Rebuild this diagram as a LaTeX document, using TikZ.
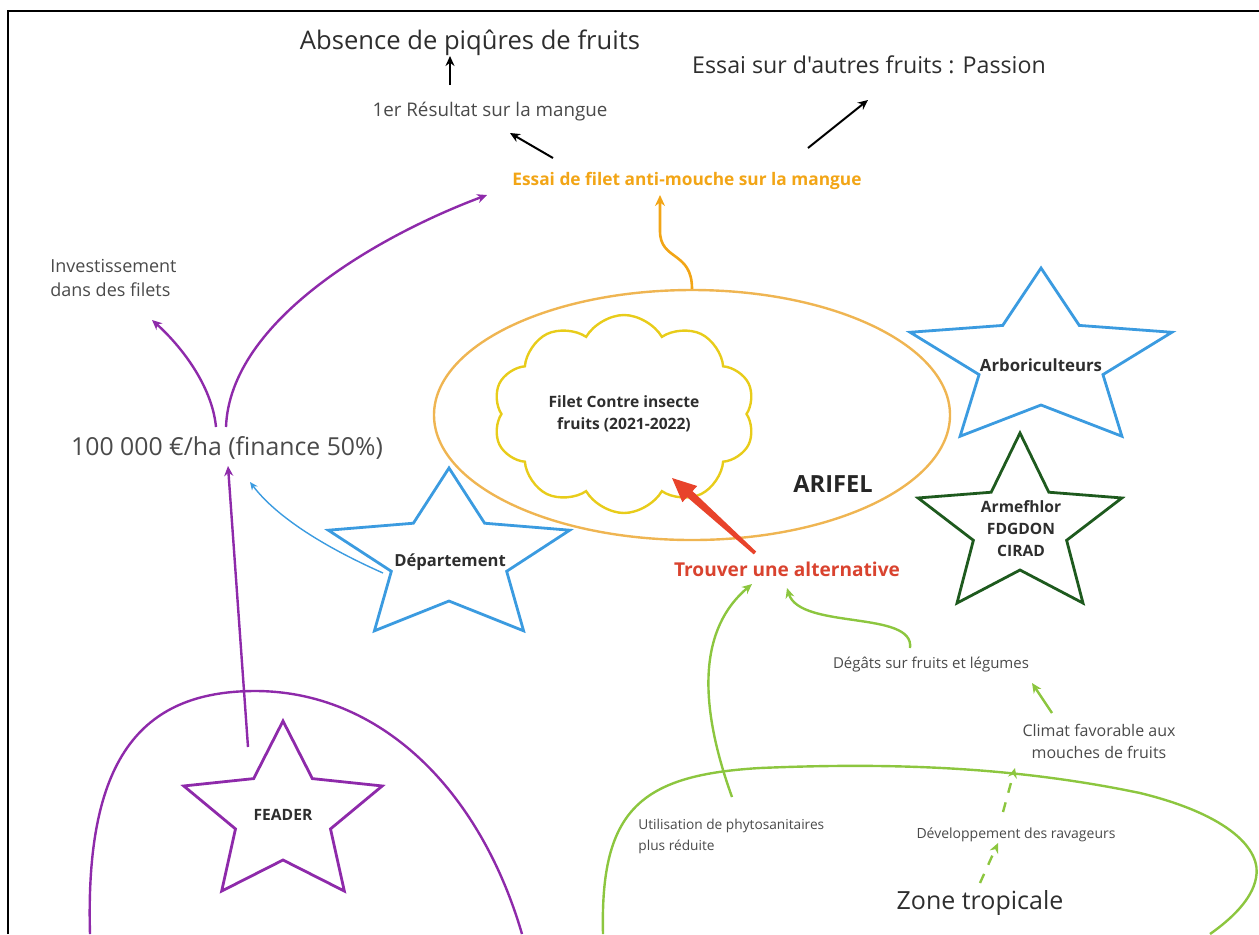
\documentclass[tikz,border=0pt]{standalone}
\usepackage{fontspec}
\setmainfont{Open Sans}[Ligatures=TeXOff]
\usetikzlibrary{arrows.meta,shapes.geometric,shapes.symbols,calc}
\definecolor{purp}{HTML}{8E2AAA}
\definecolor{bluestar}{HTML}{3B9BE0}
\definecolor{dkgreen}{HTML}{1E5A1E}
\definecolor{ltgreen}{HTML}{8CC63F}
\definecolor{ellorange}{HTML}{EFB552}
\definecolor{cloudyel}{HTML}{E8CC1A}
\definecolor{orangetxt}{HTML}{F2A516}
\definecolor{redarrow}{HTML}{E8432B}
\definecolor{redtxt}{HTML}{D9432F}
\definecolor{txtgray}{HTML}{4A4A4A}
\definecolor{txtdark}{HTML}{2E2E2E}
\newcommand\fs[2]{\fontsize{#1}{#2}\selectfont}
\newcommand\drawstar[6]{\draw[#1, shift={(#2,#3)}, xscale=#6] (-90:#4) -- (-54:#5) -- (-18:#4) -- (18:#5) -- (54:#4) -- (90:#5) -- (126:#4) -- (162:#5) -- (198:#4) -- (234:#5) -- cycle;}
\tikzset{
  txt/.style={inner sep=0pt, text=txtgray, align=center},
  btxt/.style={inner sep=0pt, text=txtdark, align=center, font=\bfseries},
  blkarrow/.style={draw=black, line width=1pt, -{Stealth[length=5pt,width=4.5pt]}},
  purparrow/.style={draw=purp, line width=1.2pt, -{Stealth[length=5pt,width=4.5pt]}},
  bluearrow/.style={draw=bluestar, line width=0.7pt, -{Stealth[length=4pt,width=3.5pt]}},
  greenarrow/.style={draw=ltgreen, line width=1.2pt, -{Stealth[length=5pt,width=4.5pt]}},
  greendash/.style={draw=ltgreen, line width=1.2pt, dash pattern=on 5pt off 5pt, -{Stealth[length=5pt,width=4.5pt]}},
  starline/.style={line width=1.4pt, line join=miter},
}
\begin{document}
\begin{tikzpicture}[x=0.5pt,y=-0.5pt]
\useasboundingbox (0,0) rectangle (1259,934);
% frame
\draw[black, line width=1pt] (8,934) -- (8,11) -- (1259,11);

% big background curves
\draw[purp, line width=1.2pt] (90,934) .. controls (85,760) and (140,692) .. (253,691) .. controls (380,690) and (480,790) .. (522,934);
\draw[ltgreen, line width=1.2pt] (603,934) .. controls (600,810) and (640,775) .. (760,768) .. controls (900,762) and (1020,768) .. (1140,793) .. controls (1230,815) and (1262,850) .. (1256,878) .. controls (1252,900) and (1230,920) .. (1210,934);

% ellipse and cloud
\node[ellipse, draw=ellorange, line width=1.2pt, minimum width=258pt, minimum height=125pt, inner sep=0pt] (ell) at (692,415) {};
\node[cloud, draw=cloudyel, line width=1.2pt, cloud puffs=10, cloud puff arc=120, minimum width=131pt, minimum height=99pt, inner sep=0pt, aspect=1.3, btxt, font=\bfseries\fs{7.8}{11}] (cloud) at (624,414) {Filet Contre insecte\\fruits (2021-2022)};
\node[btxt, font=\bfseries\fs{11.8}{14}, text=black!85] (arifel) at (833,484) {ARIFEL};

% stars
\drawstar{draw=bluestar, starline}{1041}{361}{93}{44}{1.48}
\drawstar{draw=dkgreen, starline}{1020}{527}{94}{43}{1.14}
\drawstar{draw=bluestar, starline}{449}{558}{90}{43}{1.41}
\drawstar{draw=purp, starline}{283}{815}{94}{45}{1.11}
\node[btxt, font=\bfseries\fs{8.4}{10}] (arbor) at (1041,365) {Arboriculteurs};
\node[btxt, font=\bfseries\fs{7.8}{11}] (armef) at (1021,529) {Armefhlor\\FDGDON\\CIRAD};
\node[btxt, font=\bfseries\fs{8.3}{10}] (dept) at (450,562) {Département};
\node[btxt, font=\bfseries\fs{7.8}{10}] (feader) at (283,815) {FEADER};

% texts
\node[txt, text=txtdark, font=\fs{12.8}{15}] (absence) at (470,43) {Absence de piqûres de fruits};
\node[txt, text=txtdark, font=\fs{11.6}{14}] (passion) at (869,65) {Essai sur d'autres fruits : Passion};
\node[txt, font=\fs{9.4}{11}] (res1) at (490,112) {1er Résultat sur la mangue};
\node[txt, text=orangetxt, font=\bfseries\fs{8.65}{10}] (essai) at (687,181) {Essai de filet anti-mouche sur la mangue};
\node[txt, align=left, anchor=west, font=\fs{9}{12}] (invest) at (50,278) {Investissement\\dans des filets};
\node[txt, font=\fs{12.4}{14}] (cent) at (227,448) {100 000 €/ha (finance 50\%)};
\node[txt, text=redtxt, font=\bfseries\fs{9.55}{11}] (trouver) at (787,569) {Trouver une alternative};
\node[txt, font=\fs{7.5}{10}] (degats) at (931,665) {Dégâts sur fruits et légumes};
\node[txt, font=\fs{8}{11}] (climat) at (1099,741) {Climat favorable aux\\mouches de fruits};
\node[txt, align=left, anchor=west, font=\fs{6.85}{10.5}] (util) at (638,836) {Utilisation de phytosanitaires\\plus réduite};
\node[txt, font=\fs{7}{10}] (dev) at (1016,835) {Développement des ravageurs};
\node[txt, text=txtdark, font=\fs{12.5}{15}] (zone) at (980,903) {Zone tropicale};

% black arrows
\draw[blkarrow] ($(res1)+(-40,-27)$) -- ($(absence)+(-20,13)$);
\draw[blkarrow] ($(essai)+(-134,-23)$) -- ($(res1)+(20,21)$);
\draw[blkarrow] ($(essai)+(121,-33)$) -- ($(passion)+(-1,35)$);

% orange arrow
\draw[draw=orangetxt, line width=1.3pt, -{Stealth[length=5.5pt,width=5pt]}] (ell.north) .. controls +(0,-38) and +(0,30) .. ($(essai)+(-27,50)$) -- ($(essai)+(-27,14)$);

% purple arrows
\draw[purparrow] ($(cent)+(-1,-21)$) .. controls (230,320) and (380,235) .. ($(essai)+(-200,14)$);
\draw[purparrow] ($(cent)+(-11,-21)$) .. controls (212,385) and (180,345) .. ($(invest.west)+(102,42)$);
\draw[purparrow] ($(feader)+(-35,-68)$) -- ($(cent)+(1,18)$);

% blue arrow
\draw[bluearrow] ($(dept)+(-67,11)$) .. controls (320,545) and (275,515) .. ($(cent)+(23,34)$);

% red arrow (tapered), from trouver to cloud
\coordinate (rs) at ($(trouver)+(-32,-16)$);
\coordinate (rt) at ($(cloud)+(48,64)$);
\fill[redarrow] (rs) ++(1.2,-1.4) -- (692.5,491.1) -- (697.2,486.0) -- (rt) -- (682.4,502.2) -- (687.1,497.1) -- ($(rs)+(-1.2,1.4)$) -- cycle;

% green arrows
\draw[greenarrow] ($(util.west)+(94,-39)$) .. controls (697,700) and (700,628) .. ($(trouver)+(-35,15)$);
\draw[greenarrow] ($(degats)+(-21,-17)$) .. controls (915,610) and (800,630) .. ($(trouver)+(0,19)$);
\draw[greenarrow] ($(climat)+(-47,-28)$) -- ($(degats)+(101,18)$);
\draw[greendash] ($(dev)+(-13,-23)$) -- ($(climat)+(-84,27)$);
\draw[greendash] ($(zone)+(0,-20)$) -- ($(dev)+(-18,8)$);
\end{tikzpicture}
\end{document}
